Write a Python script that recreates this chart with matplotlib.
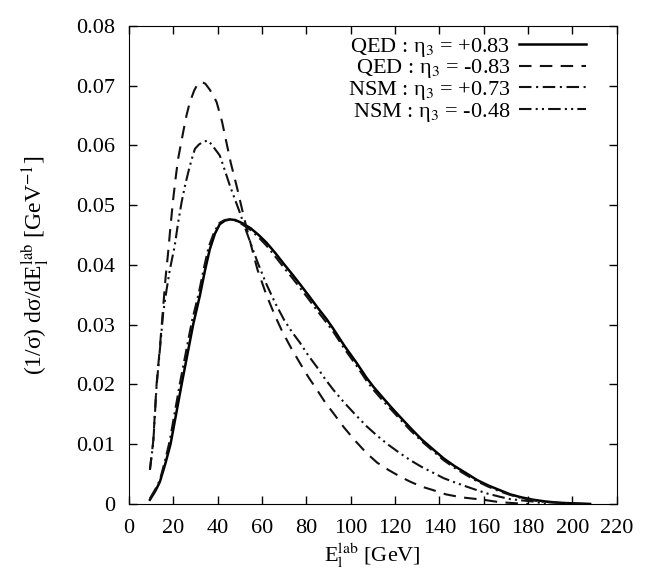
import numpy as np
import matplotlib
matplotlib.use('Agg')
import matplotlib.pyplot as plt

plt.rcParams['font.family'] = ['Liberation Serif', 'DejaVu Serif']
plt.rcParams['mathtext.fontset'] = 'stix'

# QED eta3 = +0.83 (solid)
x_qed_p = [9.5, 12, 14, 16.5, 18.8, 21.3, 23.8, 26.4, 29, 32, 34.3, 36.5, 38.8, 41, 43.3, 45.6, 48, 51, 55,
           58.5, 62.1, 66, 70, 73.5, 77.1, 81, 85, 89.2, 92.2, 97.3, 102.7, 107.2, 110.5, 114.7, 118.5, 122.2,
           127, 132, 137.3, 142, 147, 152.3, 157, 162, 167.3, 172, 177, 182.4, 188, 194, 200, 208]
y_qed_p = [0.0007, 0.0022, 0.0037, 0.0068, 0.0100, 0.0150, 0.0200, 0.0250, 0.0300, 0.0348, 0.0390, 0.0426,
           0.0452, 0.0468, 0.0474, 0.0476, 0.0475, 0.0470, 0.0461, 0.0450, 0.0437, 0.0420, 0.0401, 0.0385,
           0.0368, 0.0349, 0.0329, 0.0309, 0.0293, 0.0264, 0.0236, 0.0211, 0.0195, 0.0177, 0.0161, 0.0146,
           0.0127, 0.0108, 0.0091, 0.0076, 0.0063, 0.0051, 0.0040, 0.0031, 0.0023, 0.0016, 0.0011, 0.0007,
           0.0004, 0.0002, 0.0001, 0.0]

# QED eta3 = -0.83 (dashed)
x_qed_m = [9.5, 11, 12.5, 14, 15.5, 16.6, 17.7, 18.8, 20, 21.1, 22.2, 24.5, 26, 27.5, 29.5, 31, 32.8, 34.5,
           36.5, 38, 39.6, 42, 44, 46, 48.6, 52, 56, 58, 62, 66, 69, 73, 77.1, 81, 85, 88.5, 92.2, 97, 102,
           107.2, 112, 117, 122.2, 127, 132, 137.3, 143, 150, 159.8, 167, 175, 180]
y_qed_m = [0.0057, 0.0105, 0.0200, 0.0262, 0.0330, 0.0380, 0.0420, 0.0465, 0.0510, 0.0545, 0.0577, 0.0622,
           0.0650, 0.0672, 0.0692, 0.0702, 0.0706, 0.0703, 0.0693, 0.0684, 0.0672, 0.0640, 0.0605, 0.0570,
           0.0532, 0.0478, 0.0420, 0.0392, 0.0350, 0.0314, 0.0290, 0.0262, 0.0236, 0.0212, 0.0190, 0.0170,
           0.0152, 0.0128, 0.0106, 0.0085, 0.0069, 0.0057, 0.0046, 0.0037, 0.0029, 0.0023, 0.0016, 0.0011,
           0.0007, 0.0003, 0.0001, 0.0]

# NSM eta3 = +0.73 (dash-dot)
x_nsm_p = [9.5, 12, 14, 16.3, 18.4, 20.8, 23.2, 25.8, 28.4, 31.5, 33.8, 36, 38.5, 40.8, 43.2, 45.6, 48, 51, 55,
           58.5, 62.1, 66, 70, 73.5, 77.1, 81, 85, 89.2, 92.2, 97.3, 102.7, 107.2, 110.5, 114.7, 118.5, 122.2,
           127, 132, 137.3, 142, 147, 152.3, 157, 162, 167.3, 172, 177, 182.4, 188, 194, 200, 206]
y_nsm_p = [0.0009, 0.0025, 0.0040, 0.0072, 0.0105, 0.0155, 0.0205, 0.0255, 0.0305, 0.0352, 0.0394, 0.0430,
           0.0455, 0.0470, 0.0475, 0.0476, 0.0474, 0.0468, 0.0458, 0.0446, 0.0432, 0.0414, 0.0395, 0.0379,
           0.0362, 0.0343, 0.0323, 0.0303, 0.0288, 0.0259, 0.0231, 0.0206, 0.0190, 0.0172, 0.0157, 0.0142,
           0.0123, 0.0105, 0.0088, 0.0073, 0.0060, 0.0048, 0.0038, 0.0029, 0.0021, 0.0015, 0.0010, 0.0006,
           0.0003, 0.0002, 0.0001, 0.0]

# NSM eta3 = -0.48 (dash-dot-dot)
x_nsm_m = [9.5, 11, 12.5, 14, 15.5, 17, 18.5, 20.7, 22.2, 23.8, 25.3, 26.8, 28.3, 29.8, 31.5, 33.5, 35.8, 38,
           41, 43.3, 45.6, 47.8, 50, 52.6, 55.3, 58.5, 62, 66, 70, 73.5, 77.1, 81, 85, 88.5, 92.2, 97, 102,
           107.2, 112, 117, 122.2, 127, 132, 137.3, 142, 147, 152.3, 157, 162, 167.3, 172, 177, 182.4, 188]
y_nsm_m = [0.0057, 0.0102, 0.0197, 0.0258, 0.0320, 0.0358, 0.0392, 0.0432, 0.0470, 0.0505, 0.0532, 0.0555,
           0.0576, 0.0594, 0.0601, 0.0606, 0.0608, 0.0598, 0.0583, 0.0558, 0.0532, 0.0510, 0.0488, 0.0460,
           0.0432, 0.0400, 0.0368, 0.0336, 0.0308, 0.0288, 0.0270, 0.0248, 0.0228, 0.0209, 0.0191, 0.0170,
           0.0150, 0.0130, 0.0114, 0.0099, 0.0085, 0.0073, 0.0062, 0.0052, 0.0043, 0.0036, 0.0029, 0.0023,
           0.0017, 0.0012, 0.0008, 0.0006, 0.0004, 0.0]

labels = ['QED : η$_3$ = +0.83', 'QED : η$_3$ = -0.83',
          'NSM : η$_3$ = +0.73', 'NSM : η$_3$ = -0.48']

x_ticks = np.arange(0, 221, 20)
y_ticks = [0, 0.01, 0.02, 0.03, 0.04, 0.05, 0.06, 0.07, 0.08]
y_ticklabels = ['0', '0.01', '0.02', '0.03', '0.04', '0.05', '0.06', '0.07', '0.08']

fig = plt.figure(figsize=(6.54, 5.72), dpi=100)
ax = fig.add_axes([0.197, 0.119, 0.746, 0.836])

c = '#111111'
ax.plot(x_qed_p, y_qed_p, color='black', lw=1.8, label=labels[0])
ax.plot(x_qed_m, y_qed_m, color=c, lw=1.5, dashes=(6, 4), label=labels[1])
ax.plot(x_nsm_p, y_nsm_p, color=c, lw=1.5, dashes=(6, 2.2, 1, 2.2), label=labels[2])
ax.plot(x_nsm_m, y_nsm_m, color=c, lw=1.5, dashes=(6, 2, 1, 2, 1, 2), label=labels[3])

ax.set_xlim(0, 220)
ax.set_ylim(0, 0.08)
ax.set_xticks(x_ticks)
ax.set_yticks(y_ticks)
ax.set_yticklabels(y_ticklabels)
ax.tick_params(direction='in', top=True, right=True, length=6, width=1, labelsize=16)
ax.tick_params(axis='x', pad=11)
ax.tick_params(axis='y', pad=10)

ax.set_xlabel('E$_{\\rm l}^{\\rm lab}$ [GeV]', fontsize=16, labelpad=2)
ax.set_ylabel('(1/σ) dσ/dE$_{\\rm l}^{\\rm lab}$ [GeV$^{-1}$]', fontsize=17, labelpad=18)

leg = ax.legend(loc='upper right', bbox_to_anchor=(0.937, 0.979), frameon=False, markerfirst=False,
                fontsize=16, handlelength=3.0, labelspacing=-0.06, borderaxespad=0, borderpad=0,
                handletextpad=0.4)
for t in leg.get_texts():
    t.set_ha('right')
leg._legend_box.align = 'right'

fig.savefig('out.png', dpi=100)
